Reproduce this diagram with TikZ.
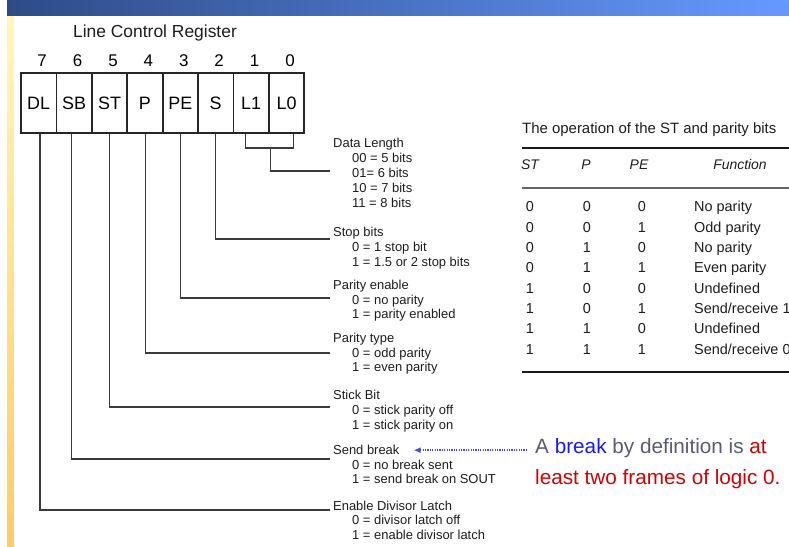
\documentclass[tikz,border=0pt]{standalone}
\usepackage{fontspec}
\setmainfont{Liberation Sans}
\usetikzlibrary{arrows.meta}
\definecolor{barL}{HTML}{2E4B86}
\definecolor{barR}{HTML}{6699FF}
\definecolor{stripT}{HTML}{FFF7B8}
\definecolor{stripB}{HTML}{FFCC66}
\definecolor{notegray}{HTML}{5A5A78}
\definecolor{noteblue}{HTML}{1A1AF0}
\definecolor{notered}{HTML}{D40000}
\definecolor{linegray}{HTML}{3A3A3A}
\definecolor{txt}{HTML}{1E1E1E}
\begin{document}
\begin{tikzpicture}[x=1bp,y=-1bp,
  cell/.style={draw=black!85, line width=1.8bp, minimum width=35.4bp, minimum height=60bp, inner sep=0, font=\fontsize{18}{20}\selectfont},
  bitnum/.style={inner sep=0, anchor=base, font=\fontsize{17}{19}\selectfont},
  dline/.style={inner sep=0, anchor=base west, text=txt, font=\fontsize{13}{15}\selectfont},
  conn/.style={line width=1.2bp, draw=linegray},
  tbl/.style={inner sep=0, anchor=base, text=txt, font=\fontsize{14.5}{16}\selectfont},
  tblf/.style={inner sep=0, anchor=base west, text=txt, font=\fontsize{14.5}{16}\selectfont},
  thead/.style={inner sep=0, anchor=base, text=txt, font=\fontsize{14}{16}\selectfont\itshape},
  thick rule/.style={line width=2.6bp, draw=black!90},
  thin rule/.style={line width=1.2bp, draw=black!60},
  note/.style={inner sep=0, anchor=base west, text=notegray, font=\fontsize{20.8}{24}\selectfont},
  dotarrow/.style={draw=noteblue!80, line width=1.3bp, dash pattern=on 1.2bp off 1.2bp, -{Latex[length=7bp,width=6bp]}}
]
\useasboundingbox (0,0) rectangle (789,547);
\clip (0,0) rectangle (789,547);
\fill[white] (0,0) rectangle (789,547);
% decorations
\shade[left color=barL, right color=barR] (7,1) rectangle (789,16);
\shade[top color=stripT, bottom color=stripB] (7,17) rectangle (14,547);

% title
\node[inner sep=0, text=txt, font=\fontsize{17.5}{20}\selectfont] (title) at (155,33) {Line Control Register};

% register cells
\node[cell] (c7) at (38.7,103) {DL};
\node[cell] (c6) at (74.1,103) {SB};
\node[cell] (c5) at (109.5,103) {ST};
\node[cell] (c4) at (144.9,103) {P};
\node[cell] (c3) at (180.3,103) {PE};
\node[cell] (c2) at (215.7,103) {S};
\node[cell] (c1) at (251.1,103) {L1};
\node[cell] (c0) at (286.5,103) {L0};

% bit numbers
\node[bitnum] (b7) at (42.2,67) {7};
\node[bitnum] (b6) at (77.6,67) {6};
\node[bitnum] (b5) at (113,67) {5};
\node[bitnum] (b4) at (148.4,67) {4};
\node[bitnum] (b3) at (183.8,67) {3};
\node[bitnum] (b2) at (219.2,67) {2};
\node[bitnum] (b1) at (254.6,67) {1};
\node[bitnum] (b0) at (290,67) {0};

% descriptions
\node[dline] (dlT) at (333,147.6) {Data Length};
\node[dline] (dl1) at (352,162.6) {00 = 5 bits};
\node[dline] (dl2) at (352,177.6) {01= 6 bits};
\node[dline] (dl3) at (352,192.6) {10 = 7 bits};
\node[dline] (dl4) at (352,207.6) {11 = 8 bits};

\node[dline] (sbT) at (333,236.6) {Stop bits};
\node[dline] (sb1) at (352,251.6) {0 = 1 stop bit};
\node[dline] (sb2) at (352,266.6) {1 = 1.5 or 2 stop bits};

\node[dline] (peT) at (333,289.6) {Parity enable};
\node[dline] (pe1) at (352,304.6) {0 = no parity};
\node[dline] (pe2) at (352,318.6) {1 = parity enabled};

\node[dline] (ptT) at (333,342.6) {Parity type};
\node[dline] (pt1) at (352,357) {0 = odd parity};
\node[dline] (pt2) at (352,371.6) {1 = even parity};

\node[dline] (stT) at (333,399.6) {Stick Bit};
\node[dline] (st1) at (352,414.6) {0 = stick parity off};
\node[dline] (st2) at (352,429.6) {1 = stick parity on};

\node[dline] (brT) at (333,454.6) {Send break};
\node[dline] (br1) at (352,469.6) {0 = no break sent};
\node[dline] (br2) at (352,483.6) {1 = send break on SOUT};

\node[dline] (edT) at (333,510.6) {Enable Divisor Latch};
\node[dline] (ed1) at (352,524.6) {0 = divisor latch off};
\node[dline] (ed2) at (352,539.6) {1 = enable divisor latch};

% connector end points
\coordinate (eDL) at (330,171);
\coordinate (eS) at (330,239);
\coordinate (ePE) at (330,298);
\coordinate (eP) at (330,353);
\coordinate (eST) at (330,407);
\coordinate (eSB) at (330,459);
\coordinate (eD) at (330,510);
\coordinate (brk) at (270.3,148);

% connectors
\draw[conn] ([xshift=-5.8bp]c1.south) |- (brk) -| ([xshift=6.8bp]c0.south);
\draw[conn] (brk) |- (eDL);
\draw[conn] (c2.south) |- (eS);
\draw[conn] (c3.south) |- (ePE);
\draw[conn] ([xshift=0.8bp]c4.south) |- (eP);
\draw[conn] (c5.south) |- (eST);
\draw[conn] ([xshift=-3bp]c6.south) |- (eSB);
\draw[conn] ([xshift=1.3bp]c7.south) |- (eD);

% table
\node[inner sep=0, anchor=base west, text=txt, font=\fontsize{15}{17}\selectfont] (ttitle) at (522,133.4) {The operation of the ST and parity bits};
\coordinate (r1L) at (522,148);
\coordinate (r1R) at (789,148);
\draw[thick rule] (r1L) -- (r1R);
\node[thead] (hST) at (530,170) {ST};
\node[thead] (hP) at (586,170) {P};
\node[thead] (hPE) at (639,170) {PE};
\node[thead] (hF) at (740,170) {Function};
\coordinate (r2L) at (522,188);
\coordinate (r2R) at (789,188);
\draw[thin rule] (r2L) -- (r2R);
\foreach \i/\a/\b/\c/\f in {0/0/0/0/No parity, 1/0/0/1/Odd parity, 2/0/1/0/No parity, 3/0/1/1/Even parity, 4/1/0/0/Undefined, 5/1/0/1/Send{/}receive 1, 6/1/1/0/Undefined, 7/1/1/1/Send{/}receive 0}{
  \pgfmathsetmacro{\yy}{212+20.3*\i}
  \node[tbl] (ra\i) at (530,\yy) {\a};
  \node[tbl] (rb\i) at (587,\yy) {\b};
  \node[tbl] (rc\i) at (642,\yy) {\c};
  \node[tblf] (rf\i) at (694,\yy) {\f};
}
\coordinate (r3L) at (522,372);
\coordinate (r3R) at (789,372);
\draw[thick rule] (r3L) -- (r3R);

% note
\node[note] (note1) at (535,453.5) {A \textcolor{noteblue}{break} by definition is \textcolor{notered}{at}};
\node[note, text=notered] (note2) at (535,484.5) {least two frames of logic 0.};
\draw[dotarrow] ([xshift=-8bp,yshift=-2bp]note1.west) -- ([xshift=14bp,yshift=-2bp]note1.west -| brT.east);
\end{tikzpicture}
\end{document}
